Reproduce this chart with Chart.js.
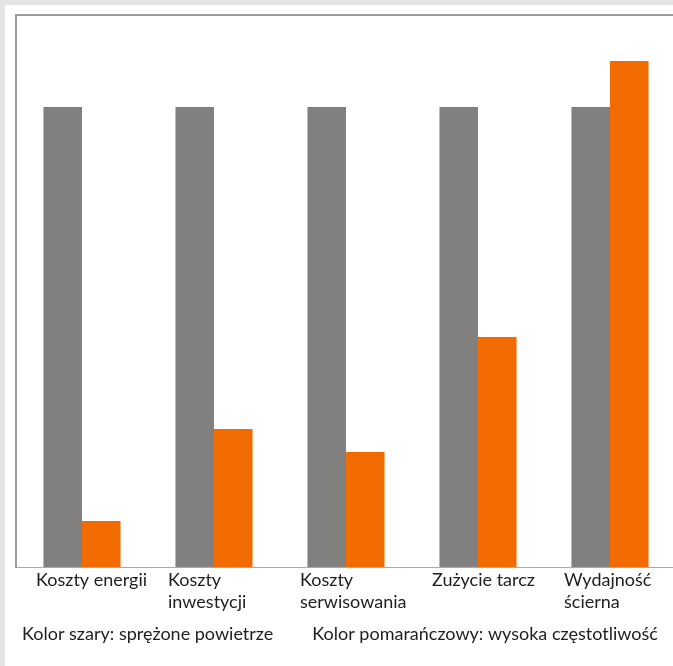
<!DOCTYPE html>
<html>
<head>
<meta charset="utf-8">
<script src="https://cdn.jsdelivr.net/npm/chart.js@4"></script>
<style>
  html, body { margin: 0; padding: 0; overflow: hidden; background: #e4e6e5; }
  body { width: 673px; height: 666px; position: relative; }
  #panel { position: absolute; left: 5px; top: 5px; right: 0; bottom: 0; background: #fff; }
  #wykres { position: absolute; left: -17px; top: 0; }
</style>
</head>
<body>
<div id="panel"></div>
<canvas id="wykres" width="693" height="666"></canvas>
<script>
const kategorie = [
  ["Koszty energii"],
  ["Koszty", "inwestycji"],
  ["Koszty", "serwisowania"],
  ["Zużycie tarcz"],
  ["Wydajność", "ścierna"]
];
const sprezonePowietrze = [100, 100, 100, 100, 100];
const wysokaCzestotliwosc = [10, 30, 25, 50, 110];
const osYMax = 120;

const czcionka = { family: "Lato", size: 18, lineHeight: 1.222 };

new Chart(document.getElementById("wykres").getContext("2d"), {
  type: "bar",
  data: {
    labels: kategorie,
    datasets: [
      {
        label: "Kolor szary: sprężone powietrze",
        data: sprezonePowietrze,
        backgroundColor: "#81807e"
      },
      {
        label: "Kolor pomarańczowy: wysoka częstotliwość",
        data: wysokaCzestotliwosc,
        backgroundColor: "#f26b00"
      }
    ]
  },
  options: {
    responsive: false,
    devicePixelRatio: 1,
    animation: false,
    categoryPercentage: 0.584,
    barPercentage: 1,
    layout: { padding: { left: 0, top: 0, right: 0, bottom: 13 } },
    scales: {
      x: {
        position: "bottom",
        grid: { display: false, drawTicks: false },
        border: { display: true, color: "#ababab", width: 1 },
        ticks: {
          autoSkip: false,
          maxRotation: 0,
          align: "start",
          labelOffset: -46,
          padding: 2,
          color: "#1e1e1e",
          font: czcionka
        },
        afterFit: s => {
          s.height = 50;
          s.paddingLeft = 0;
          s.paddingRight = 0;
        }
      },
      xTop: {
        type: "category",
        position: "top",
        labels: kategorie,
        grid: { display: false, drawTicks: false },
        border: { display: true, color: "#9a9a9a", width: 2 },
        ticks: { display: false },
        afterFit: s => { s.height = 15; }
      },
      y: {
        min: 0,
        max: osYMax,
        grid: { display: false, drawTicks: false },
        border: { display: true, color: "#9a9a9a", width: 2 },
        ticks: { display: false },
        afterFit: s => { s.width = 33; }
      }
    },
    plugins: {
      tooltip: { enabled: false },
      legend: {
        position: "bottom",
        align: "start",
        labels: {
          boxWidth: 22,
          boxHeight: 0,
          padding: 8,
          color: "#1e1e1e",
          font: { family: "Lato", size: 18 },
          generateLabels: chart =>
            Chart.defaults.plugins.legend.labels.generateLabels(chart).map(l => ({
              ...l,
              fillStyle: "rgba(0,0,0,0)",
              strokeStyle: "rgba(0,0,0,0)",
              lineWidth: 0
            }))
        }
      }
    }
  }
});
</script>
</body>
</html>
